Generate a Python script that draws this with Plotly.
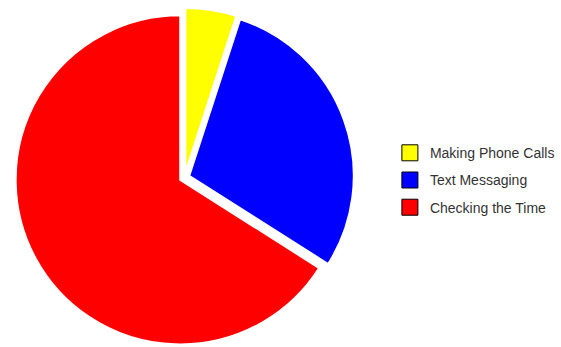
import plotly.graph_objects as go

labels = ["Making Phone Calls", "Text Messaging", "Checking the Time"]
values = [5, 29, 66]
colors = ["#FFFF00", "#0000FF", "#FF0000"]

fig = go.Figure()
fig.add_trace(go.Pie(
    labels=labels, values=values, sort=False, direction="clockwise", rotation=0,
    marker=dict(colors=colors, line=dict(color="white", width=2)),
    pull=[0.03, 0.03, 0.03], textinfo="none", hoverinfo="label+percent",
    showlegend=False, domain=dict(x=[0, 0.658], y=[0, 1]),
))
for i, (lab, col) in enumerate(zip(labels, colors)):
    fig.add_trace(go.Scatter(
        x=[None], y=[None], mode="markers", name=lab, legendgroup=lab,
        marker=dict(symbol="square", size=16, color=col, line=dict(color="black", width=1)),
    ))

fig.update_layout(
    width=561, height=347, margin=dict(l=0, r=0, t=8, b=0),
    paper_bgcolor="white", plot_bgcolor="white",
    xaxis=dict(visible=False), yaxis=dict(visible=False),
    font=dict(family="Liberation Sans, Arial, sans-serif", size=14, color="#333333"),
    legend=dict(x=0.695, xanchor="left", y=0.492, yanchor="middle",
                tracegroupgap=6, bgcolor="rgba(0,0,0,0)", itemclick=False),
)
fig.write_html("out.html")
